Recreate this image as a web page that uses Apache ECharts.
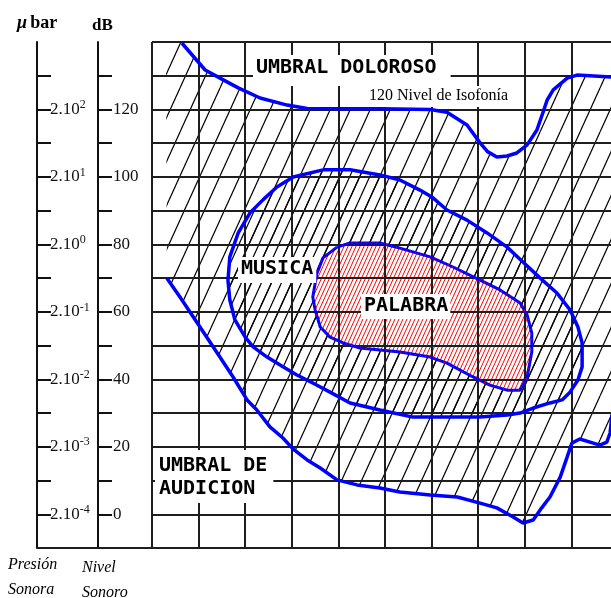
<!DOCTYPE html>
<html><head><meta charset="utf-8">
<script src="https://cdn.jsdelivr.net/npm/echarts@6/dist/echarts.min.js"></script>
<style>html,body{margin:0;padding:0;background:#fff}#c{width:611px;height:598px}</style>
</head><body><div id="c"></div>
<script>
// ---- data (x: frequency grid step, y: dB) ----
const dbTicks = [0,10,20,30,40,50,60,70,80,90,100,110,120,130];
const dbLabels = [0,20,40,60,80,100,120];
const pressureExps = ['-4','-3','-2','-1','0','1','2'];
const hatchLeftX = 0.3;
const painThreshold = [[0.64,139.7],[1.14,131.7],[1.46,129.3],[1.85,126.4],[2.32,123.4],[2.90,121.3],[3.33,120.3],[4.10,120.2],[4.89,120.2],[5.97,120.0],[6.33,119.2],[6.76,115.4],[7.04,110.1],[7.20,107.5],[7.40,105.9],[7.62,106.2],[7.83,107.1],[8.05,109.5],[8.26,113.9],[8.40,119.5],[8.48,122.8],[8.61,125.8],[8.91,129.3],[9.12,130.2],[9.85,129.6],[10,129.6]];
const hearingThreshold = [[0.32,70.0],[0.60,64.4],[1.03,55.5],[1.40,47.8],[1.74,40.7],[2.04,33.9],[2.25,30.9],[2.53,25.9],[2.81,22.6],[3.03,19.3],[3.33,16.1],[3.61,13.7],[3.97,10.2],[4.40,8.7],[4.89,7.8],[5.32,6.6],[5.97,5.7],[6.55,5.1],[7.04,3.3],[7.40,1.9],[7.75,-0.8],[7.96,-2.6],[8.18,-1.7],[8.33,1.3],[8.54,5.1],[8.76,11.0],[8.91,17.0],[9.01,21.1],[9.18,22.3],[9.40,21.4],[9.61,20.5],[9.76,21.4],[9.83,24.1],[9.87,29.4],[10,32.4]];
const musicArea = [[3.67,102.1],[4.25,102.1],[4.89,100.6],[5.32,99.1],[5.75,96.1],[6.03,93.8],[6.33,90.2],[6.76,87.2],[7.19,83.4],[7.62,79.2],[7.96,74.8],[8.33,70.0],[8.69,65.6],[8.97,60.6],[9.14,55.5],[9.23,50.8],[9.23,43.7],[9.14,39.8],[8.97,36.2],[8.80,33.9],[8.54,33.0],[8.18,31.5],[7.90,30.0],[7.62,29.4],[7.04,28.8],[6.33,28.8],[5.60,28.8],[4.89,30.9],[4.25,33.0],[3.82,36.2],[3.45,38.9],[3.11,41.3],[2.81,43.7],[2.47,46.6],[2.17,49.6],[2.00,52.5],[1.78,57.6],[1.67,63.5],[1.63,69.4],[1.67,76.3],[1.85,83.4],[2.10,89.3],[2.38,93.2],[2.68,97.0],[3.03,100.0]];
const speechArea = [[3.97,79.2],[4.25,80.4],[4.89,80.4],[5.32,78.9],[5.97,76.3],[6.46,73.3],[7.04,69.4],[7.47,66.5],[7.90,62.6],[8.05,59.1],[8.15,53.7],[8.15,48.1],[8.05,40.7],[7.90,36.8],[7.62,36.8],[7.25,38.3],[6.89,40.7],[6.33,44.8],[5.97,46.6],[5.32,48.1],[4.89,48.7],[4.46,49.3],[4.10,50.8],[3.82,52.5],[3.61,55.5],[3.50,60.6],[3.45,64.4],[3.54,71.5],[3.67,76.0]];

// ---- hatch patterns ----
function hatchTile(n, color, bg, lw) {
  const w = 20, h = 44;
  const c = document.createElement('canvas');
  c.width = w; c.height = h;
  const g = c.getContext('2d');
  if (bg) { g.fillStyle = bg; g.fillRect(0, 0, w, h); }
  g.strokeStyle = color; g.lineWidth = lw;
  for (let i = 0; i < n; i++) {
    const x0 = i * w / n;
    for (const k of [-1, 0, 1]) {
      g.beginPath(); g.moveTo(x0 + k * w, h); g.lineTo(x0 + (k + 1) * w, 0); g.stroke();
    }
  }
  return c;
}
const sparse = { image: hatchTile(1, '#000', null, 1.2), repeat: 'repeat' };
const dense = { image: hatchTile(2, '#000', null, 1.2), repeat: 'repeat' };
const red = { image: hatchTile(5, '#ff0000', '#ffffff', 1), repeat: 'repeat' };

const hatchRegion = [[hatchLeftX, 140]].concat(painThreshold, hearingThreshold.slice().reverse());
function closed(a) { return a.concat([a[0]]); }

function polySeries(pts, fill) {
  return {
    type: 'custom', coordinateSystem: 'cartesian2d', z: 1, silent: true,
    data: [pts[0]],
    renderItem: (p, api) => ({
      type: 'polygon',
      shape: { points: pts.map(q => api.coord(q)) },
      style: { fill: fill, stroke: null }
    })
  };
}
function lineSeries(pts, color, width, extra) {
  return Object.assign({
    type: 'line', data: pts, symbol: 'none', z: 5, silent: true,
    lineStyle: { color: color, width: width }
  }, extra || {});
}

const chart = echarts.init(document.getElementById('c'), null, { renderer: 'canvas' });
const serif = 'Liberation Serif';
const mono = 'DejaVu Sans Mono';
const monoFont = 'bold 20px "' + mono + '"';
const sideAxis = (offset, formatter, rich, margin) => ({
  type: 'value', position: 'left', offset: offset, min: -10, max: 140, interval: 10, z: 3,
  axisLine: { show: true, lineStyle: { color: '#111', width: 2 } },
  axisTick: { show: true, inside: true, length: 14, customValues: dbTicks, lineStyle: { color: '#111', width: 2 } },
  axisLabel: { show: true, inside: true, margin: margin, customValues: dbLabels, formatter: formatter,
    fontFamily: serif, fontSize: 17, color: '#111', rich: rich },
  splitLine: { show: false }
});

chart.setOption({
  animation: false,
  backgroundColor: '#fff',
  grid: { left: 152, top: 42, width: 466, height: 506, containLabel: false, outerBoundsMode: 'none' },
  xAxis: {
    type: 'value', min: 0, max: 10, interval: 1, z: 3,
    axisLine: { show: false }, axisTick: { show: false }, axisLabel: { show: false },
    splitLine: { show: true, lineStyle: { color: '#1e1e1e', width: 2 } }
  },
  yAxis: [
    { type: 'value', min: -10, max: 140, interval: 10, z: 3,
      axisLine: { show: false }, axisTick: { show: false }, axisLabel: { show: false },
      splitLine: { show: true, lineStyle: { color: '#1e1e1e', width: 2 } } },
    sideAxis(54, v => String(v), undefined, 15),
    sideAxis(115, v => '{m|2.10}{e|' + pressureExps[dbLabels.indexOf(v)] + '}', {
      m: { fontFamily: serif, fontSize: 17, color: '#111' },
      e: { fontFamily: serif, fontSize: 12, color: '#111', verticalAlign: 'bottom', padding: [0, 0, 9, 0] }
    }, 13)
  ],
  series: [
    polySeries(hatchRegion, sparse),
    polySeries(musicArea, dense),
    polySeries(speechArea, red),
    lineSeries(painThreshold, '#0000ff', 3.5),
    lineSeries(hearingThreshold, '#0000ff', 3.5),
    lineSeries(closed(musicArea), '#0000ff', 3.5),
    lineSeries(closed(speechArea), '#0000ff', 3),
    lineSeries(closed(speechArea), '#ff0000', 1, { lineStyle: { color: '#ff0000', width: 1, type: [1, 4] } })
  ],
  graphic: [
    { type: 'line', z: 100, shape: { x1: 37, y1: 548, x2: 152, y2: 548 }, style: { stroke: '#1e1e1e', lineWidth: 2 } },
    { type: 'text', z: 100, x: 253, y: 55, style: { text: 'UMBRAL DOLOROSO', font: monoFont, fill: '#000', backgroundColor: '#fff', padding: [3, 14, 8, 3] } },
    { type: 'text', z: 100, x: 366, y: 86, style: { text: '120 Nivel de Isofonía', font: '16px "' + serif + '"', fill: '#000', backgroundColor: '#fff', padding: [2, 3, 3, 3] } },
    { type: 'text', z: 100, x: 238, y: 257, style: { text: 'MUSICA', font: monoFont, fill: '#000', backgroundColor: '#fff', padding: [2, 3, 4, 3] } },
    { type: 'text', z: 100, x: 361, y: 294, style: { text: 'PALABRA', font: monoFont, fill: '#000', backgroundColor: '#fff', padding: [2, 2, 3, 3] } },
    { type: 'text', z: 100, x: 155, y: 450, style: { text: 'UMBRAL DE\nAUDICION', font: monoFont, lineHeight: 23, fill: '#000', backgroundColor: '#fff', padding: [4, 6, 3, 4] } },
    { type: 'text', z: 100, x: 17, y: 14, style: { text: '{i|μ} {b|bar}', rich: { i: { font: 'bold italic 18px "' + serif + '"', fill: '#000' }, b: { font: 'bold 18px "' + serif + '"', fill: '#000' } } } },
    { type: 'text', z: 100, x: 92, y: 17, style: { text: 'dB', font: 'bold 17px "' + serif + '"', fill: '#000' } },
    { type: 'text', z: 100, x: 8, y: 552, style: { text: 'Presión\nSonora', font: 'italic 16px "' + serif + '"', lineHeight: 25, fill: '#000' } },
    { type: 'text', z: 100, x: 82, y: 555, style: { text: 'Nivel\nSonoro', font: 'italic 16px "' + serif + '"', lineHeight: 25, fill: '#000' } }
  ]
});
</script></body></html>
